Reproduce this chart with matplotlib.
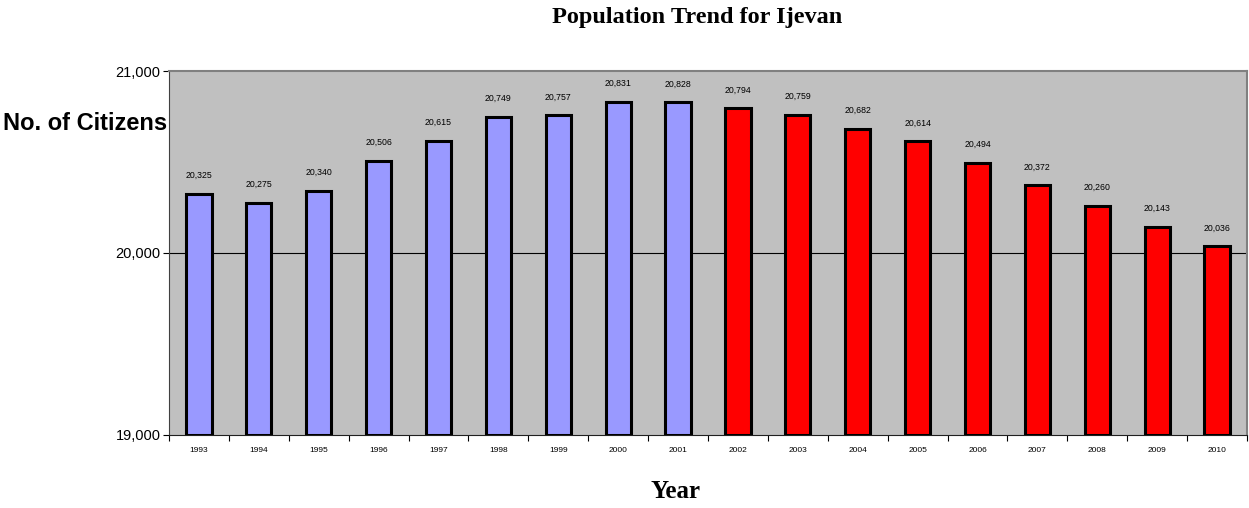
import matplotlib
matplotlib.use("Agg")
import matplotlib.pyplot as plt
import numpy as np

# data
years = ["1993", "1994", "1995", "1996", "1997", "1998", "1999", "2000", "2001",
         "2002", "2003", "2004", "2005", "2006", "2007", "2008", "2009", "2010"]
citizens = [20325, 20275, 20340, 20506, 20615, 20749, 20757, 20831, 20828,
            20794, 20759, 20682, 20614, 20494, 20372, 20260, 20143, 20036]
y_ticks = [19000, 20000, 21000]

BLUE = "#9999FF"
RED = "#FF0000"
BG = "#C0C0C0"

colors = [BLUE if int(y) <= 2001 else RED for y in years]

fig = plt.figure(figsize=(12.49, 5.08), dpi=100)
ax = fig.add_axes([169 / 1249, 73 / 508, 1078 / 1249, 364 / 508])
ax.set_facecolor(BG)

x = np.arange(len(years))
ax.bar(x, [c - 19000 for c in citizens], bottom=19000, width=0.42,
       color=colors, edgecolor="black", linewidth=2.2, zorder=3)

for xi, c in zip(x, citizens):
    ax.annotate(f"{c:,}", (xi, c), xytext=(0, 10), textcoords="offset points",
                ha="center", va="bottom", fontsize=6.3, family="Liberation Sans")

ax.set_xlim(-0.5, len(years) - 0.5)
ax.set_ylim(19000, 21000)
ax.set_yticks(y_ticks)
ax.set_yticklabels([f"{t:,}" for t in y_ticks], fontsize=10.5, family="Liberation Sans")
ax.axhline(20000, color="black", linewidth=0.8, zorder=2)

ax.set_xticks(x)
ax.set_xticklabels(years, fontsize=6, family="Liberation Sans")
ax.set_xticks(np.arange(-0.5, len(years)), minor=True)
ax.tick_params(axis="x", which="major", length=0, pad=9)
ax.tick_params(axis="x", which="minor", length=4, width=0.8, direction="out")
ax.tick_params(axis="y", length=4, width=0.8, direction="out", pad=2)

for side in ["top", "right"]:
    ax.spines[side].set_color("#808080")
    ax.spines[side].set_linewidth(1.5)
ax.spines["left"].set_color("#404040")
ax.spines["bottom"].set_color("#202020")

fig.text(697 / 1249, 1 - 17 / 508, "Population Trend for Ijevan", ha="center", va="center",
         fontsize=17.5, fontweight="bold", family="Liberation Serif")
fig.text(675 / 1249, 1 - 492 / 508, "Year", ha="center", va="center",
         fontsize=18, fontweight="bold", family="Liberation Serif")
fig.text(3 / 1249, 1 - 124 / 508, "No. of Citizens", ha="left", va="center",
         fontsize=17, fontweight="bold", family="Liberation Sans")

fig.savefig("out.png", dpi=100)
